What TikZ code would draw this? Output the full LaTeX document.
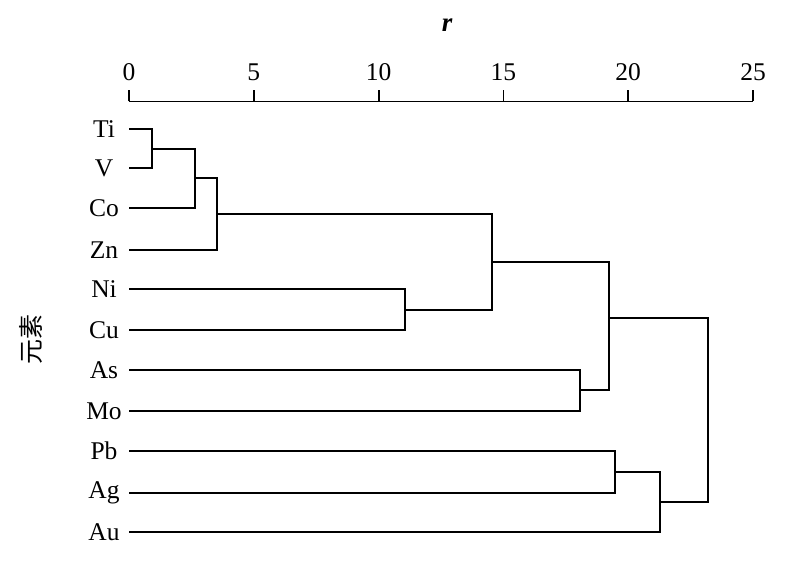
\documentclass[tikz,border=0pt]{standalone}
\usepackage{fontspec}
\setmainfont{Liberation Serif}
\newfontfamily\cjk{Noto Sans CJK SC}
\begin{document}
\begin{tikzpicture}[x=1pt,y=-1pt,
  leaflabel/.style={font=\fontsize{25.5}{25.5}\selectfont, anchor=center},
  ticklabel/.style={font=\fontsize{25.5}{25.5}\selectfont, anchor=base},
  tree/.style={line width=1.7pt, line join=miter},
  axisline/.style={line width=1.8pt}]
\useasboundingbox (0,0) rectangle (800,572);
% axis
\node[font=\fontsize{27}{27}\selectfont\bfseries\itshape] (rlab) at (447,25) {r};
\coordinate (a0) at (129,101.5);
\coordinate (a25) at (753,101.5);
\draw[axisline] (a0) -- (a25);
\foreach \v [count=\i from 0] in {0,5,10,15,20,25}{
  \coordinate (t\i) at ({129+\v*24.96},101.5);
  \draw[axisline] (t\i) -- ++(0,-11);
  \node[ticklabel] (tl\i) at ({129+\v*24.96},80.5) {\v};
}
% y label
\node[font=\cjk\fontsize{25}{25}\selectfont, rotate=90] (ylab) at (31,339) {元素};
% leaves
\foreach \n/\y in {Ti/129,V/168,Co/208,Zn/250,Ni/289,Cu/330,As/370,Mo/411,Pb/451,Ag/493,Au/532}{
  \node[leaflabel] (L\n) at (104,\y) {\n};
  \coordinate (\n) at (129,\y);
}
% merge points
\coordinate (m1) at (152,149);
\coordinate (m2) at (195,178);
\coordinate (m3) at (216.7,214);
\coordinate (m4) at (405.3,310);
\coordinate (m5) at (491.7,262);
\coordinate (m6) at (580,390);
\coordinate (m7) at (609.3,318);
\coordinate (m8) at (615,472);
\coordinate (m9) at (660,502);
\coordinate (m10) at (708,410);
\draw[tree] (Ti) -| (m1) |- (V);
\draw[tree] (m1) -| (m2) |- (Co);
\draw[tree] (m2) -| (m3) |- (Zn);
\draw[tree] (Ni) -| (m4) |- (Cu);
\draw[tree] (m3) -| (m5) |- (m4);
\draw[tree] (As) -| (m6) |- (Mo);
\draw[tree] (m5) -| (m7) |- (m6);
\draw[tree] (Pb) -| (m8) |- (Ag);
\draw[tree] (m8) -| (m9) |- (Au);
\draw[tree] (m7) -| (m10) |- (m9);
\end{tikzpicture}
\end{document}
